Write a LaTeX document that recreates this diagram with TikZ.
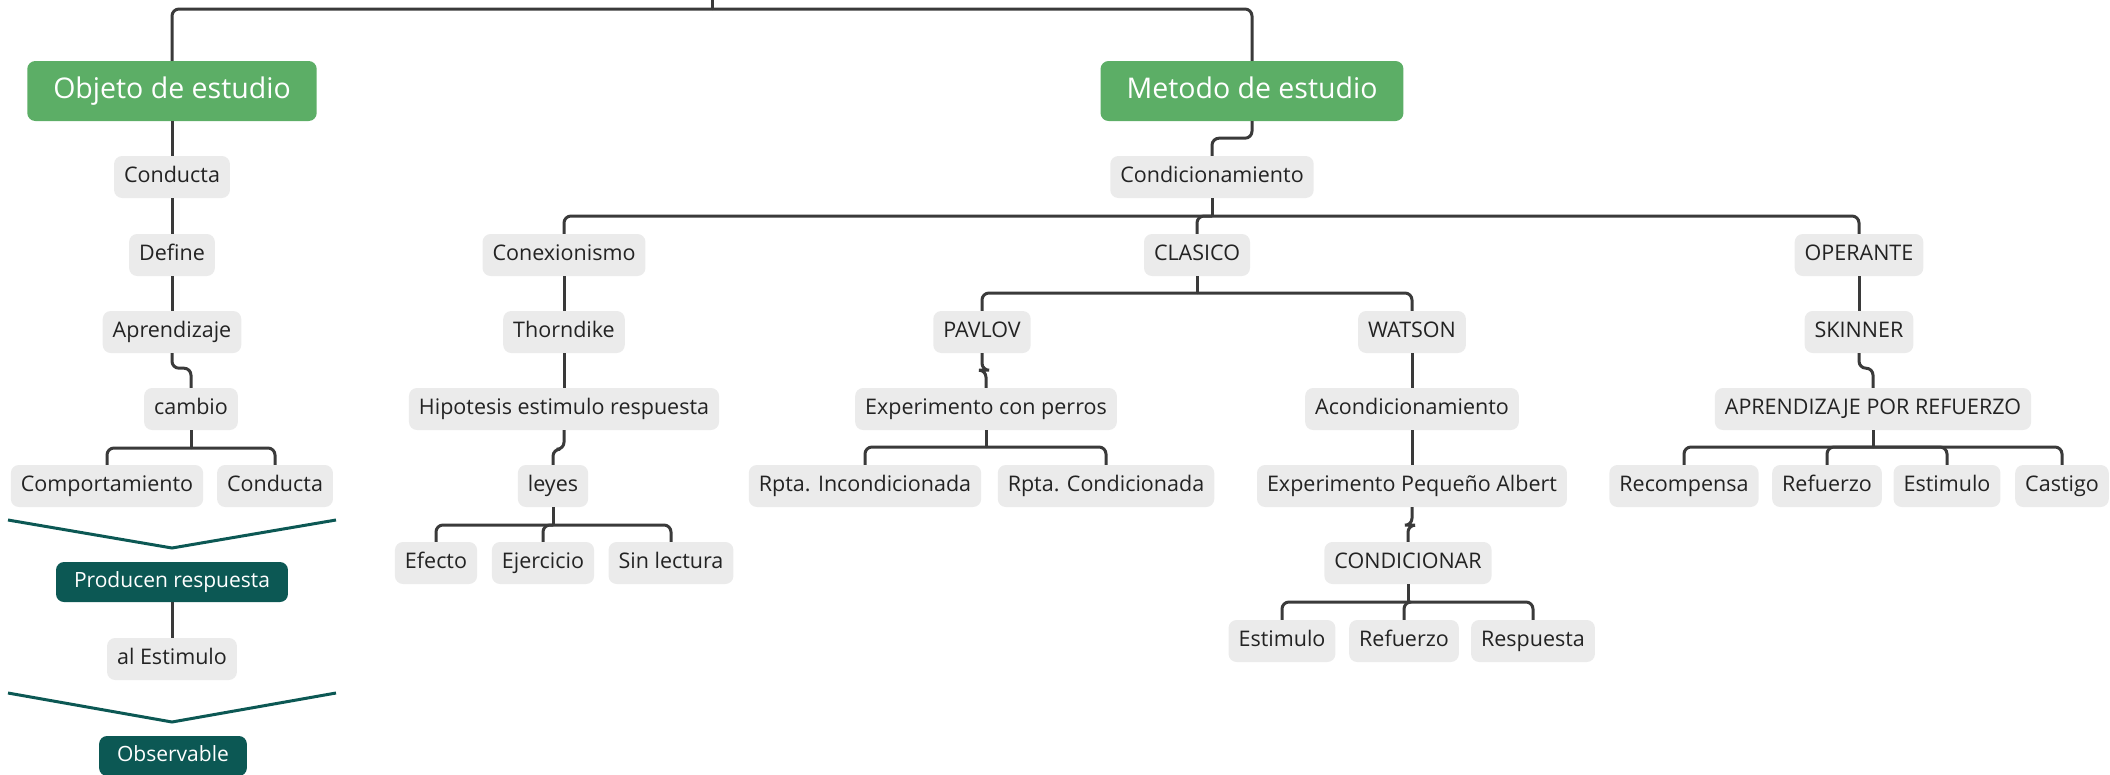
\documentclass[tikz,border=0pt]{standalone}
\usepackage{fontspec}
\setmainfont[Ligatures=NoCommon]{Open Sans}
\definecolor{mapgreen}{RGB}{92,174,102}
\definecolor{mapteal}{RGB}{12,88,84}
\definecolor{mapgray}{RGB}{235,235,235}
\definecolor{mapline}{RGB}{58,58,58}
\definecolor{maptext}{RGB}{35,35,35}

\begin{document}
\begin{tikzpicture}[x=1pt, y=-1pt,
  topic/.style={fill=mapgreen, text=white, rounded corners=8pt, minimum height=60pt, inner xsep=26pt, text height=20pt, text depth=6pt, font=\fontsize{28.5}{34}\selectfont},
  leaf/.style={fill=mapgray, text=maptext, rounded corners=8pt, minimum height=42pt, inner xsep=10pt, text height=15pt, text depth=4pt, font=\fontsize{21.5}{26}\selectfont},
  tag/.style={fill=mapteal, text=white, rounded corners=8pt, minimum height=40pt, inner xsep=18pt, text height=15pt, text depth=4pt, font=\fontsize{21}{25}\selectfont},
  link/.style={draw=mapline, line width=3pt, rounded corners=7pt},
  chev/.style={draw=mapteal, line width=3pt}]
\useasboundingbox (0,0) rectangle (2110,774);
% Main topics
\node[topic] (objeto) at (172,91) {Objeto de estudio};
\node[topic] (metodo) at (1252,91) {Metodo de estudio};
\coordinate (root) at (712,0);
\coordinate (rootbar) at (712,9);
\draw[link] (root) -- (rootbar);
\draw[link] (rootbar) -| (objeto.north);
\draw[link] (rootbar) -| (metodo.north);
% Objeto de estudio
\node[leaf] (conducta) at (172,177) {Conducta};
\node[leaf] (define) at (172,255) {Define};
\node[leaf] (aprend) at (172,332) {Aprendizaje};
\node[leaf] (cambio) at (191,409) {cambio};
\node[leaf] (comport) at (107,486) {Comportamiento};
\node[leaf] (conducta2) at (275,486) {Conducta};
\draw[link] (objeto.south) -- (conducta.north);
\draw[link] (conducta.south) -- (define.north);
\draw[link] (define.south) -- (aprend.north);
\draw[link] (aprend.south) -- ++(0,15) -| (cambio.north);
\coordinate (cambiobar) at (191,448);
\draw[link] (cambio.south) -- (cambiobar);
\draw[link] (cambiobar) -| (comport.north);
\draw[link] (cambiobar) -| (conducta2.north);
% Chevrons and results
\draw[chev] (8,520) -- (172,548) -- (336,520);
\node[tag] (producen) at (172,582) {Producen respuesta};
\node[leaf] (alestim) at (172,659) {al Estimulo};
\draw[link] (producen.south) -- (alestim.north);
\draw[chev] (8,693) -- (172,722) -- (336,693);
\node[tag] (observ) at (173,756) {Observable};
% Metodo de estudio
\node[leaf] (condic) at (1212,177) {Condicionamiento};
\draw[link] (metodo.south) -- ++(0,17) -| (condic.north);
\node[leaf] (conex) at (564,255) {Conexionismo};
\node[leaf] (clasico) at (1197,255) {CLASICO};
\node[leaf] (operante) at (1859,255) {OPERANTE};
\coordinate (condicbar) at (1212,216);
\draw[link] (condic.south) -- (condicbar);
\draw[link] (condicbar) -| (conex.north);
\draw[link] (condicbar) -| (clasico.north);
\draw[link] (condicbar) -| (operante.north);
% Conexionismo
\node[leaf] (thorn) at (564,332) {Thorndike};
\node[leaf] (hipot) at (564,409) {Hipotesis estimulo respuesta};
\node[leaf] (leyes) at (553,486) {leyes};
\node[leaf] (efecto) at (436,563) {Efecto};
\node[leaf] (ejerc) at (543,563) {Ejercicio};
\node[leaf] (sinlect) at (671,563) {Sin lectura};
\draw[link] (conex.south) -- (thorn.north);
\draw[link] (thorn.south) -- (hipot.north);
\draw[link] (hipot.south) -- ++(0,19) -| (leyes.north);
\coordinate (leyesbar) at (553,525);
\draw[link] (leyes.south) -- (leyesbar);
\foreach \n in {efecto,ejerc,sinlect}
  \draw[link] (leyesbar) -| (\n.north);
% Clasico
\node[leaf] (pavlov) at (982,332) {PAVLOV};
\node[leaf] (watson) at (1412,332) {WATSON};
\coordinate (clasicobar) at (1197,293);
\draw[link] (clasico.south) -- (clasicobar);
\draw[link] (clasicobar) -| (pavlov.north);
\draw[link] (clasicobar) -| (watson.north);
\node[leaf] (perros) at (986,409) {Experimento con perros};
\node[leaf] (rptainc) at (865,486) {Rpta. Incondicionada};
\node[leaf] (rptacond) at (1106,486) {Rpta. Condicionada};
\draw[link] (pavlov.south) -- ++(0,17) -| (perros.north);
\coordinate (perrosbar) at (986,447);
\draw[link] (perros.south) -- (perrosbar);
\draw[link] (perrosbar) -| (rptainc.north);
\draw[link] (perrosbar) -| (rptacond.north);
\node[leaf] (acond) at (1412,409) {Acondicionamiento};
\node[leaf] (albert) at (1412,486) {Experimento Pequeño Albert};
\node[leaf] (condicionar) at (1408,563) {CONDICIONAR};
\node[leaf] (estim) at (1282,641) {Estimulo};
\node[leaf] (refuerzo) at (1404,641) {Refuerzo};
\node[leaf] (resp) at (1533,641) {Respuesta};
\draw[link] (watson.south) -- (acond.north);
\draw[link] (acond.south) -- (albert.north);
\draw[link] (albert.south) -- ++(0,18) -| (condicionar.north);
\coordinate (condicionarbar) at (1408,602);
\draw[link] (condicionar.south) -- (condicionarbar);
\foreach \n in {estim,refuerzo,resp}
  \draw[link] (condicionarbar) -| (\n.north);
% Operante
\node[leaf] (skinner) at (1859,332) {SKINNER};
\node[leaf] (aprref) at (1873,409) {APRENDIZAJE POR REFUERZO};
\node[leaf] (recomp) at (1684,486) {Recompensa};
\node[leaf] (refuerzo2) at (1827,486) {Refuerzo};
\node[leaf] (estim2) at (1947,486) {Estimulo};
\node[leaf] (castigo) at (2062,486) {Castigo};
\draw[link] (operante.south) -- (skinner.north);
\draw[link] (skinner.south) -- ++(0,15) -| (aprref.north);
\coordinate (aprrefbar) at (1873,447);
\draw[link] (aprref.south) -- (aprrefbar);
\foreach \n in {recomp,refuerzo2,estim2,castigo}
  \draw[link] (aprrefbar) -| (\n.north);
\end{tikzpicture}
\end{document}
